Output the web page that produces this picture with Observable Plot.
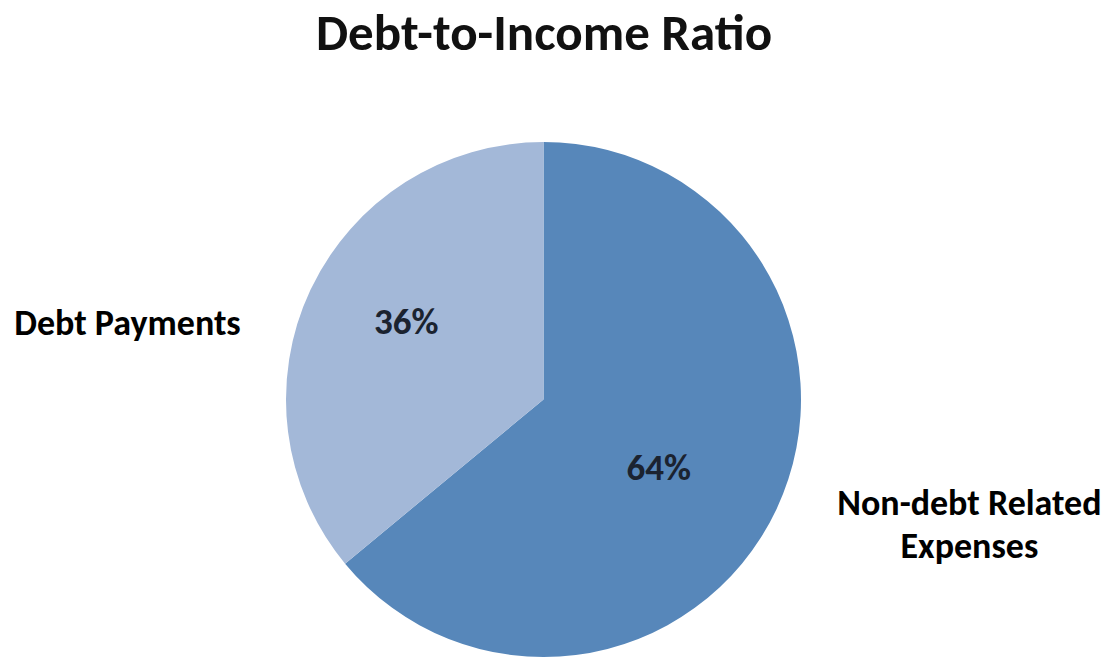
<!DOCTYPE html>
<html>
<head>
<meta charset="utf-8">
<script src="https://cdn.jsdelivr.net/npm/d3@7"></script>
<script src="https://cdn.jsdelivr.net/npm/@observablehq/plot@0.6"></script>
<style>
  html, body { margin: 0; padding: 0; background: #fff; }
  #chart svg { display: block; }
</style>
</head>
<body>
<div id="chart"></div>
<script>
// ---- data ----
const categories = ["Non-debt Related Expenses", "Debt Payments"];
const values = [64, 36];
const sliceLabels = ["64%", "36%"];
const categoryLabels = ["Non-debt Related\nExpenses", "Debt Payments"];
const colors = ["#5787BA", "#A3B8D8"];
const title = "Debt-to-Income Ratio";

// ---- layout (data units: 1 = pie radius, origin = pie center) ----
const FONT = "Carlito, Lato, 'Open Sans', sans-serif";
const catPos = [[1.652, -0.612], [-1.6175, 0.2505]];
const pctOffset = [[-0.097, -0.054], [0.008, 0]]; // nudges from the centroid, in radius units
const titlePos = [0, 1.36];

const pie = d3.pie().sort(null).value(d => d)(values);
const slices = pie.map((p, i) => ({
  name: categories[i],
  color: colors[i],
  start: p.startAngle,
  end: p.endAngle,
  pct: sliceLabels[i],
  cat: categoryLabels[i],
  mid: (p.startAngle + p.endAngle) / 2,
  pdx: pctOffset[i][0], pdy: pctOffset[i][1],
  cx: catPos[i][0], cy: catPos[i][1]
}));

const cx = 543.5, cy = 399.5, R = 257.5;

function pieMark(index, scales) {
  const x0 = scales.x(0), y0 = scales.y(0);
  const r = scales.x(1) - scales.x(0);
  const arc = d3.arc().innerRadius(0).outerRadius(r);
  const g = d3.create("svg:g").attr("transform", `translate(${x0},${y0})`);
  g.selectAll("path")
    .data(slices)
    .join("path")
    .attr("d", d => arc({startAngle: d.start, endAngle: d.end}))
    .attr("fill", d => d.color)
    .attr("stroke", "none");
  return g.node();
}

const chart = Plot.plot({
  width: 1113,
  height: 660,
  margin: 0,
  style: {background: "#fff", fontFamily: FONT},
  x: {type: "linear", domain: [-1, 1], range: [cx - R, cx + R], axis: null},
  y: {type: "linear", domain: [-1, 1], range: [cy + R, cy - R], axis: null},
  marks: [
    pieMark,
    // percentage labels near slice centroids
    Plot.text(slices, {
      x: d => 0.6 * Math.sin(d.mid) + d.pdx,
      y: d => 0.6 * Math.cos(d.mid) + d.pdy,
      text: "pct",
      lineAnchor: "bottom",
      fontSize: 37,
      fontWeight: "bold",
      fill: "#1b2330",
      fontFamily: FONT
    }),
    // category labels outside the pie
    Plot.text(slices, {
      x: "cx",
      y: "cy",
      text: "cat",
      lineAnchor: "bottom",
      lineHeight: 1.17,
      fontSize: 36,
      fontWeight: "bold",
      fill: "#000",
      fontFamily: FONT
    }),
    // title
    Plot.text([title], {
      x: () => titlePos[0],
      y: () => titlePos[1],
      text: d => d,
      lineAnchor: "bottom",
      fontSize: 51,
      fontWeight: "bold",
      fill: "#111",
      fontFamily: FONT
    })
  ]
});

document.getElementById("chart").appendChild(chart);
</script>
</body>
</html>
